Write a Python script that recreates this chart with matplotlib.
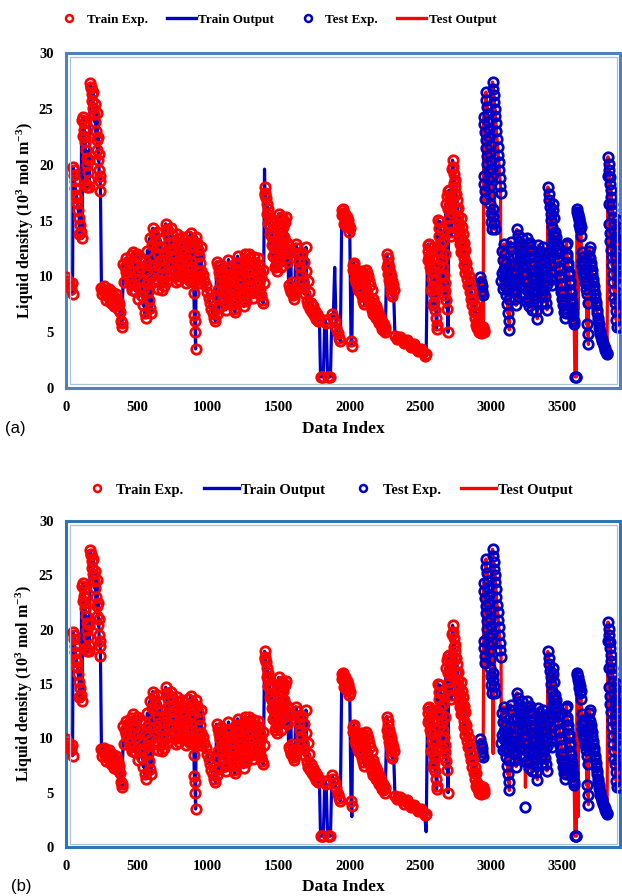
import numpy as np
import matplotlib.pyplot as plt
from matplotlib.lines import Line2D
from matplotlib.patches import Rectangle

plt.rcParams["font.family"] = ["Liberation Serif", "DejaVu Serif"]
plt.rcParams["font.weight"] = "bold"
plt.rcParams["mathtext.fontset"] = "custom"
plt.rcParams["mathtext.rm"] = "Liberation Serif:bold"
plt.rcParams["mathtext.it"] = "Liberation Serif:italic:bold"
plt.rcParams["mathtext.bf"] = "Liberation Serif:bold"

# ---- experimental data, training part (data index, liquid density 10^3 mol/m3) ----
tr_idx_1 = [0, 12, 24, 36, 46, 50, 55, 60, 66, 72, 79, 86, 93, 100, 107, 114,
            120, 124, 128, 132, 136, 141, 146, 151, 156, 161, 165,
            170, 175, 180, 186, 192, 198, 204, 210, 216, 222, 228, 233, 238, 243,
            250, 262, 274, 286, 298, 310, 322, 334, 346, 358, 370, 380, 388, 395]
tr_val_1 = [9.9, 9.6, 9.3, 8.9, 8.4, 19.8, 19.1, 18.5, 17.9, 17.3, 16.6, 15.9, 15.2, 14.6, 14.0, 13.4,
            24.3, 23.7, 23.1, 22.5, 22.0, 21.3, 20.6, 20.0, 19.3, 18.6, 18.0,
            27.3, 26.9, 26.3, 25.7, 25.1, 24.5, 23.8, 23.0, 22.2, 21.3, 20.4, 19.5, 18.5, 17.6,
            9.0, 8.8, 8.5, 8.7, 8.2, 7.9, 8.6, 7.6, 8.1, 7.4, 7.1, 6.8, 6.0, 5.5]

tr_idx_2 = [405, 415, 425, 435, 445, 455, 465,
            475, 485, 495, 505, 515, 525, 535, 545, 555, 562,
            570, 578, 586, 594, 602,
            612, 621, 630, 639, 648, 657, 666, 675, 684, 693,
            703, 711, 719, 727, 735, 743, 751, 759, 767, 775,
            784, 792, 800, 808, 816, 824, 832, 840, 848,
            857, 864, 871, 878, 885, 892, 898, 902, 905, 908, 911, 914,
            920, 927, 934, 941, 948,
            955, 965, 975, 985, 995, 1005, 1015, 1025, 1035, 1045, 1053]
tr_val_2 = [11.1, 10.8, 10.4, 10.0, 9.6, 9.2, 8.8,
            12.2, 11.7, 11.1, 10.5, 9.8, 9.0, 8.2, 7.4, 6.7, 6.3,
            9.3, 8.6, 7.9, 7.2, 6.7,
            14.3, 13.8, 13.2, 12.6, 12.0, 11.4, 10.8, 10.2, 9.6, 9.1,
            14.7, 14.2, 13.6, 13.0, 12.4, 11.8, 11.2, 10.6, 10.0, 9.5,
            13.8, 13.3, 12.8, 12.3, 11.7, 11.1, 10.5, 9.9, 9.4,
            13.6, 13.1, 12.6, 12.0, 11.4, 10.8, 9.5, 8.5, 6.5, 6.0, 5.0, 3.5,
            13.5, 13.0, 12.4, 11.8, 11.2,
            10.5, 10.1, 9.6, 9.1, 8.6, 8.1, 7.6, 7.1, 6.7, 6.3, 6.0]

tr_idx_3 = [1062, 1070, 1078, 1086, 1094, 1102, 1110, 1118, 1126,
            1134, 1142, 1150, 1158, 1166, 1174, 1182, 1190,
            1198, 1206, 1214, 1222, 1230, 1238, 1246, 1254,
            1262, 1270, 1278, 1286, 1294, 1302, 1310, 1318,
            1326, 1334, 1342, 1350, 1358, 1366, 1374, 1382, 1390]
tr_val_3 = [11.3, 10.9, 10.4, 9.9, 9.3, 8.7, 8.1, 7.5, 7.0,
            10.6, 10.1, 9.5, 8.9, 8.3, 7.7, 7.1, 6.8,
            11.2, 10.7, 10.1, 9.5, 8.9, 8.3, 7.8, 7.3,
            12.0, 11.5, 11.0, 10.4, 9.8, 9.2, 8.6, 8.1,
            11.7, 11.2, 10.7, 10.1, 9.5, 8.9, 8.3, 7.9, 7.6]

tr_idx_4 = [1400, 1406, 1412, 1418, 1424, 1430, 1436, 1442, 1448, 1454, 1460, 1466, 1472, 1478, 1484, 1490,
            1500, 1506, 1512, 1518, 1524, 1530, 1536, 1542, 1548, 1556,
            1570, 1580, 1590, 1600, 1610,
            1620, 1628, 1636, 1644, 1652, 1660, 1668, 1676, 1684, 1692, 1700, 1710,
            1720, 1735, 1750, 1765, 1780,
            1795, 1805, 1815, 1825, 1835, 1845, 1855, 1865,
            1875, 1885, 1895, 1905, 1915, 1925, 1935]
tr_val_4 = [18.0, 17.5, 17.0, 16.5, 16.0, 15.5, 15.0, 14.5, 14.0, 13.5, 13.0, 12.5, 12.0, 11.5, 11.0, 10.5,
            15.6, 15.1, 14.6, 14.1, 13.6, 13.1, 12.6, 12.1, 11.6, 11.3,
            9.2, 8.9, 8.6, 8.3, 8.0,
            12.9, 12.5, 12.0, 11.4, 10.8, 10.2, 9.6, 9.0, 8.4, 12.6, 7.8, 7.4,
            7.1, 6.8, 6.5, 6.2, 6.0,
            1.0, 1.0, 1.0, 6.1, 5.8, 1.0, 1.0, 1.0,
            6.6, 6.3, 5.9, 5.4, 4.9, 4.5, 4.2]

tr_idx_5 = [1945, 1952, 1959, 1966, 1973, 1980, 1987, 1994, 2001,
            2010, 2016,
            2025, 2033, 2041, 2049, 2057, 2065,
            2073, 2081, 2089, 2097, 2105,
            2115, 2123, 2131, 2139, 2147, 2155,
            2163, 2173, 2183, 2193, 2203, 2213, 2223, 2233, 2243, 2253,
            2262, 2268, 2274, 2280, 2286, 2292, 2298, 2304, 2310,
            2320, 2345, 2370, 2395, 2420, 2445, 2470, 2495, 2520, 2540]
tr_val_5 = [15.9, 15.7, 15.5, 15.3, 15.1, 14.9, 14.7, 14.5, 14.3,
            4.2, 3.8,
            11.0, 10.7, 10.5, 10.3, 10.1, 9.9,
            9.0, 8.6, 8.2, 7.8, 7.5,
            10.6, 10.3, 10.0, 9.6, 9.2, 8.8,
            8.0, 7.6, 7.3, 7.0, 6.7, 6.4, 6.1, 5.8, 5.6, 5.4,
            12.0, 11.6, 11.2, 10.8, 10.4, 10.0, 9.6, 9.2, 8.8,
            4.7, 4.5, 4.3, 4.2, 4.0, 3.8, 3.6, 3.4, 3.2, 3.0]

tr_idx_6 = [2550, 2556, 2562,
            2568, 2574, 2580, 2586, 2592, 2598, 2604, 2610, 2616,
            2622, 2628, 2634, 2640, 2646, 2652, 2658, 2664, 2670, 2676, 2682, 2688, 2694,
            2700, 2705, 2710, 2715, 2720,
            2726, 2731, 2736, 2741, 2746, 2751, 2756, 2762, 2768, 2774, 2780, 2786, 2792, 2798, 2804, 2810,
            2816, 2826, 2836, 2846, 2856, 2866, 2876, 2886,
            2894, 2902, 2910, 2918, 2926, 2934, 2942, 2950]
tr_val_6 = [12.8, 12.3, 11.8,
            11.2, 10.5, 9.8, 9.1, 8.4, 7.7, 7.0, 6.3, 5.6,
            15.0, 14.3, 13.6, 12.9, 12.2, 11.5, 10.8, 10.1, 9.4, 8.7, 7.9, 7.1, 5.0,
            17.7, 17.2, 16.7, 16.2, 15.7,
            20.4, 19.8, 19.2, 18.6, 18.0, 17.4, 16.8, 16.1, 15.4, 14.7, 14.0, 13.4, 12.8, 12.2, 11.6, 11.0,
            10.3, 9.8, 9.2, 8.6, 8.0, 7.4, 6.8, 6.3,
            5.6, 5.4, 5.3, 5.2, 5.3, 5.2, 5.3, 5.2]

# interleaved training points that thicken the dense bands
tr_fill_idx = [40, 58, 75, 95, 110, 118, 140, 150, 160, 178, 190, 207, 218, 226, 232, 240,
               256, 268, 280, 292, 304, 316, 328, 340, 352, 364, 376, 392,
               410, 420, 440, 450, 460, 470, 480, 490, 500, 510, 520, 530, 540, 550, 558, 566, 574, 582,
               590, 598, 606, 616, 626, 636, 645, 652, 662, 672, 680, 690, 698, 707, 715, 724, 732, 740,
               748, 756, 764, 772, 780, 788, 796, 804, 812, 820, 828, 836, 844, 852, 861, 868, 875, 882,
               889, 895, 917, 924, 931, 938, 945, 952,
               1058, 1066, 1074, 1082, 1090, 1098, 1106, 1114, 1122, 1130, 1138, 1146, 1154, 1162, 1170,
               1178, 1186, 1194, 1202, 1210, 1218, 1226, 1234, 1242, 1250, 1258, 1266, 1274, 1282, 1290,
               1298, 1306, 1314, 1322, 1330, 1338, 1346, 1354, 1362, 1370, 1378, 1386, 1394,
               1403, 1415, 1427, 1439, 1451, 1463, 1475, 1487, 1495, 1503, 1509, 1515, 1521, 1527, 1533,
               1539, 1545, 1551, 1559, 1565, 1575, 1585, 1595, 1605, 1615, 1632, 1648, 1664, 1680, 1696,
               1705, 1715, 1727, 1742, 1757, 1772, 1787,
               1948, 1955, 1962, 1969, 1976, 1983, 1990, 1997,
               2021, 2029, 2037, 2045, 2053, 2061, 2069, 2077, 2085, 2093, 2101, 2109, 2119, 2127, 2135,
               2143, 2151, 2159, 2168, 2178, 2188, 2198, 2208, 2218, 2228, 2238, 2248, 2265, 2271, 2277,
               2283, 2289, 2295, 2301,
               2332, 2357, 2382, 2407, 2432, 2457, 2482, 2507, 2530,
               2553, 2559, 2565, 2571, 2577, 2583, 2589, 2595, 2601, 2607, 2613, 2619, 2625, 2631, 2637,
               2643, 2649, 2655, 2661, 2667, 2673, 2679, 2685, 2691, 2697, 2703, 2708, 2713, 2718,
               2723, 2733, 2743, 2753, 2759, 2765, 2771, 2777, 2783, 2789, 2795, 2801, 2807, 2813, 2821,
               2831, 2841, 2851, 2861, 2871, 2881, 2891, 2898, 2906, 2914, 2922, 2930, 2938, 2946]
tr_fill_val = [9.4, 19.5, 17.0, 13.8, 24.0, 22.6, 18.3, 18.0, 20.4, 27.0, 26.5, 25.4, 24.6, 22.5, 21.0, 19.0,
               8.4, 9.1, 7.9, 8.3, 8.9, 7.6, 8.2, 7.3, 8.4, 7.8, 7.5, 5.8,
               9.5, 11.6, 11.3, 10.6, 11.9, 10.4, 9.3, 8.7, 12.0, 8.0, 11.6, 10.8, 9.6, 9.0, 11.4, 10.5, 12.3, 11.0,
               13.4, 9.9, 12.8, 9.5, 11.0, 9.8, 14.0, 8.9, 13.3, 12.6, 8.8, 12.1, 11.5, 10.0, 9.6, 11.0, 10.4, 14.3,
               13.8, 13.0, 12.5, 11.9, 11.3, 10.0, 9.7, 11.0, 10.2, 13.5, 12.9, 12.2, 11.5, 10.8, 10.2, 9.8, 9.6, 13.9,
               13.2, 12.7, 9.6, 9.9, 10.5, 9.4, 10.0, 12.6,
               8.2, 6.6, 8.8, 7.2, 11.0, 10.5, 10.2, 9.6, 9.0, 8.5, 7.6, 11.5, 10.9, 10.2, 9.8,
               9.2, 8.8, 8.0, 7.5, 11.8, 11.2, 10.6, 10.1, 9.4, 9.0, 8.5, 7.8, 9.2, 8.4, 12.0,
               11.6, 11.1, 10.6, 9.9, 8.8, 9.3, 8.5, 11.6, 11.0, 10.4, 9.9, 10.6, 9.4,
               17.3, 15.6, 14.8, 13.8, 12.8, 11.8, 10.8, 12.8, 13.5, 12.4, 11.6, 10.8, 15.3, 14.9, 14.4,
               13.5, 14.9, 15.3, 13.0, 12.4, 12.7, 12.2, 9.5, 8.8, 8.5, 8.8, 9.4, 12.1, 11.3, 10.5,
               9.6, 8.6, 7.6, 7.3, 6.9, 6.6, 6.3,
               15.5, 16.0, 14.7, 15.6, 14.5, 15.3, 15.0, 14.0,
               10.6, 11.2, 9.8, 9.5, 9.3, 8.9, 8.7, 10.5, 10.2, 9.9, 9.5, 9.2, 8.5, 8.2, 7.9,
               7.6, 7.3, 7.0, 6.6, 6.9, 6.3, 6.1, 5.8, 5.6, 5.3, 5.2, 5.0, 10.8, 10.2, 9.7,
               9.3, 8.9, 8.5, 8.2,
               4.4, 4.6, 4.0, 4.3, 3.7, 3.9, 3.3, 3.5, 2.9,
               11.5, 12.9, 10.8, 12.5, 8.8, 11.6, 7.4, 10.9, 9.6, 8.9, 5.3, 9.0, 12.4, 11.0, 14.9,
               10.0, 14.1, 9.1, 13.2, 8.3, 12.0, 16.5, 17.2, 17.6, 16.0, 15.2, 14.6, 14.0, 13.6,
               19.6, 18.4, 17.3, 16.0, 15.0, 14.2, 13.5, 12.9, 12.2, 15.2, 14.4, 13.8, 13.0, 12.4, 11.2,
               10.6, 10.0, 9.3, 8.6, 8.0, 7.4, 6.8, 5.9, 5.7, 5.0, 5.6, 4.9, 5.5, 5.0]

# ---- experimental data, test part ----
te_idx_1 = [2922, 2927, 2932, 2937, 2942,
            2947, 2951, 2955, 2959, 2963, 2967, 2971, 2975, 2979, 2983, 2987, 2991, 2995, 2999, 3003,
            3008, 3012, 3016, 3020, 3024, 3028, 3032, 3036, 3040, 3044, 3048, 3052, 3056, 3060, 3064, 3068,
            3074, 3080, 3086, 3092, 3098, 3104, 3110, 3116, 3121, 3126,
            3132, 3139, 3146, 3153, 3160, 3167, 3174,
            3180, 3186, 3192, 3198, 3204, 3210, 3216, 3222, 3228, 3234, 3240, 3246,
            3252, 3258, 3264, 3270, 3276, 3282, 3288, 3294, 3300, 3306, 3312, 3318, 3324,
            3332, 3338, 3344, 3350, 3356, 3362, 3368, 3374, 3380, 3386, 3392]
te_val_1 = [9.9, 9.5, 9.1, 8.7, 8.3,
            24.3, 23.6, 22.9, 22.2, 21.5, 20.8, 20.1, 19.4, 18.7, 18.0, 17.3, 16.5, 15.7, 14.9, 14.2,
            27.4, 26.8, 26.2, 25.6, 25.0, 24.4, 23.7, 23.0, 22.3, 21.6, 20.9, 20.2, 19.5, 18.8, 18.1, 17.5,
            12.3, 11.5, 10.7, 9.9, 9.1, 8.3, 7.5, 6.7, 6.0, 5.2,
            11.0, 10.4, 9.8, 9.2, 8.6, 8.0, 7.4,
            14.2, 13.7, 13.2, 12.6, 12.0, 11.4, 10.8, 10.2, 9.6, 9.0, 8.4, 7.8,
            13.4, 12.9, 12.3, 11.7, 11.1, 10.5, 9.9, 9.3, 8.7, 8.1, 7.5, 6.9, 6.2,
            12.8, 12.3, 11.8, 11.2, 10.6, 10.0, 9.4, 8.8, 8.2, 7.6, 7.0]

te_idx_2 = [3398, 3403, 3408, 3413, 3418, 3423, 3428, 3433, 3438, 3443,
            3450, 3457, 3464, 3471, 3478, 3485, 3492, 3499, 3506, 3513, 3520,
            3527, 3533, 3539, 3545, 3551, 3557, 3563,
            3569, 3574, 3579, 3584, 3589, 3594, 3599,
            3606, 3612, 3618, 3624, 3630,
            3636, 3642, 3648, 3654, 3660, 3666, 3672, 3678, 3684,
            3690, 3697, 3704, 3711, 3718, 3725, 3732, 3739, 3746, 3753, 3760,
            3768, 3778, 3788, 3798, 3808, 3816,
            3822, 3826, 3830, 3834, 3838, 3842, 3846, 3850, 3854, 3858, 3862, 3866, 3870, 3874,
            3878, 3882, 3886, 3890, 3894, 3898, 3902, 3906, 3910]
te_val_2 = [18.0, 17.4, 16.8, 16.2, 15.6, 15.0, 14.4, 13.8, 13.2, 12.6,
            13.2, 12.4, 11.6, 10.8, 10.0, 9.3, 8.6, 8.0, 7.4, 6.8, 6.3,
            12.8, 12.0, 11.2, 10.4, 9.6, 8.8, 8.0,
            7.5, 6.8, 6.2, 5.7, 1.0, 1.0, 1.0,
            16.0, 15.6, 15.2, 14.8, 14.4,
            11.4, 10.9, 10.4, 9.9, 9.4, 8.9, 5.7, 4.8, 3.9,
            12.3, 11.6, 10.9, 10.2, 9.5, 8.8, 8.1, 7.4, 6.7, 6.0, 5.4,
            4.8, 4.4, 4.0, 3.6, 3.2, 3.0,
            20.7, 20.1, 19.5, 18.9, 18.3, 17.7, 17.1, 16.5, 15.9, 15.3, 14.7, 14.1, 13.5, 12.9,
            12.3, 11.7, 11.1, 10.5, 9.9, 9.3, 8.0, 6.8, 5.5]

# interleaved test points that thicken the dense bands
te_fill_idx = [2924, 2930, 2945, 2949, 2953, 2957, 2961, 2965, 2969, 2973, 2977, 2981, 2985, 2989,
               2993, 2997, 3001, 3005, 3010, 3014, 3018, 3022,
               3071, 3077, 3083, 3089, 3095, 3101, 3107, 3113, 3119, 3124, 3129, 3136, 3143, 3150,
               3157, 3164, 3171, 3177, 3183, 3189, 3195, 3201, 3207, 3213, 3219, 3225, 3231, 3237,
               3243, 3249, 3255, 3261, 3267, 3273, 3279, 3285, 3291, 3297, 3303, 3309, 3315, 3321,
               3327, 3335, 3341, 3347, 3353, 3359, 3365, 3371, 3377, 3383, 3389, 3395,
               3401, 3406, 3411, 3416, 3421, 3426, 3431, 3436, 3441, 3447, 3454, 3461, 3468, 3475,
               3482, 3489, 3496, 3503, 3510, 3517, 3524, 3530, 3536, 3542, 3548, 3554, 3560, 3566,
               3572, 3577, 3582,
               3603, 3609, 3615, 3621, 3627, 3633, 3639, 3645, 3651, 3657, 3663, 3669, 3675, 3681,
               3687, 3694, 3701, 3708, 3715, 3722, 3729, 3736, 3743, 3750, 3757, 3764, 3773, 3783,
               3793, 3803, 3812,
               3824, 3828, 3832, 3836, 3840, 3844, 3848, 3852, 3856, 3860, 3864, 3868, 3872, 3876,
               3880, 3884, 3888, 3892, 3896, 3900, 3904, 3908]
te_fill_val = [9.4, 8.5, 19.0, 18.3, 17.6, 16.9, 26.5, 25.8, 25.2, 24.5, 23.8, 23.2, 22.5, 21.8,
               21.0, 20.3, 19.6, 18.9, 16.0, 15.4, 14.8, 14.2,
               9.6, 10.3, 8.9, 12.9, 12.0, 11.2, 10.4, 9.5, 8.8, 8.0, 12.6, 13.1, 12.5, 11.8,
               11.0, 10.2, 9.5, 8.8, 11.9, 10.9, 9.8, 9.1, 8.4, 13.4, 12.8, 12.2, 11.6, 11.0,
               10.3, 9.5, 8.7, 8.0, 7.3, 13.0, 12.4, 7.0, 11.8, 11.2, 10.5, 9.8, 9.2, 8.6,
               10.8, 10.2, 9.6, 8.9, 8.3, 7.6, 12.6, 12.0, 11.4, 10.8, 10.0, 9.3,
               12.2, 11.6, 11.0, 10.4, 9.8, 9.2, 16.5, 15.9, 15.2, 14.0, 13.5, 12.8, 12.1, 11.4,
               10.6, 9.9, 9.2, 8.5, 7.8, 7.2, 6.7, 13.0, 11.7, 10.9, 10.1, 9.3, 8.5, 7.8,
               7.2, 6.5, 6.0,
               15.8, 15.4, 15.0, 14.6, 14.2, 13.6, 12.2, 11.7, 11.2, 10.7, 10.2, 9.6, 8.4, 7.6,
               11.8, 12.6, 11.2, 10.6, 9.8, 9.1, 8.4, 7.7, 7.0, 6.3, 5.7, 5.1, 4.6, 4.2,
               3.8, 3.4, 3.1,
               19.0, 16.5, 14.7, 13.9, 13.2, 12.4, 11.7, 11.0, 10.2, 9.5, 8.8, 8.1, 7.6, 6.9,
               6.1, 5.5, 15.0, 14.0, 13.0, 12.1, 10.8, 9.9]

# extra test point only seen in panel (b)
te_extra_b_idx = [3239]
te_extra_b_val = [3.7]

# model outputs: equal to the experimental points except where they deviate
tr_dev_a_idx = [1400, 1895]
tr_dev_a_val = [19.6, 10.8]
te_dev_a_idx = [2942, 3068, 3612]
te_dev_a_val = [5.6, 9.0, 7.0]
tr_dev_b_idx = [2016, 2540]
tr_dev_b_val = [2.8, 1.4]
te_dev_b_idx = [3012, 3240, 3612]
te_dev_b_val = [8.6, 5.5, 2.8]

x_ticks = [0, 500, 1000, 1500, 2000, 2500, 3000, 3500]
y_ticks = [0, 5, 10, 15, 20, 25, 30]
legend_labels = ["Train Exp.", "Train Output", "Test Exp.", "Test Output"]


def merge(idx_parts, val_parts):
    idx = np.concatenate([np.asarray(p, dtype=float) for p in idx_parts])
    val = np.concatenate([np.asarray(p, dtype=float) for p in val_parts])
    assert len(idx) == len(val)
    order = np.argsort(idx, kind="stable")
    return idx[order], val[order]


train_idx, train_exp = merge([tr_idx_1, tr_idx_2, tr_idx_3, tr_idx_4, tr_idx_5, tr_idx_6, tr_fill_idx],
                             [tr_val_1, tr_val_2, tr_val_3, tr_val_4, tr_val_5, tr_val_6, tr_fill_val])
test_idx, test_exp = merge([te_idx_1, te_idx_2, te_fill_idx], [te_val_1, te_val_2, te_fill_val])

RED = "#FF0000"
BLUE = "#0000C8"
MS, MEW = 6.8, 2.0


def output(idx, exp, dev_idx, dev_val):
    out = exp.copy()
    for i, v in zip(dev_idx, dev_val):
        out[idx == i] = v
    return out


fig = plt.figure(figsize=(6.22, 8.96), dpi=100)


def panel(rect, frame_col, tr_dev, te_dev, extra=None):
    ax = fig.add_axes(rect)
    ax.plot(train_idx, output(train_idx, train_exp, *tr_dev), color=BLUE, lw=2.3, zorder=2)
    ax.plot(test_idx, output(test_idx, test_exp, *te_dev), color=RED, lw=2.3, zorder=2)
    ax.plot(test_idx, test_exp, ls="none", marker="o", mfc="none", mec=BLUE, ms=MS, mew=MEW, zorder=3)
    ax.plot(train_idx, train_exp, ls="none", marker="o", mfc="none", mec=RED, ms=MS, mew=MEW, zorder=3)
    if extra is not None:
        ax.plot(extra[0], extra[1], ls="none", marker="o", mfc="none", mec=BLUE, ms=MS, mew=MEW, zorder=3)
    ax.set_xlim(0, 3907)
    ax.set_ylim(0, 30)
    ax.set_xticks(x_ticks)
    ax.set_yticks(y_ticks)
    ax.tick_params(length=0, labelsize=10.5)
    ax.tick_params(axis="x", pad=9)
    ax.tick_params(axis="y", pad=9)
    for s in ax.spines.values():
        s.set_color(frame_col)
        s.set_linewidth(2.2)
    # inner thin line of the double frame
    w = rect[2] * 622
    h = rect[3] * 896
    dx, dy = 3.5 / w, 3.5 / h
    ax.add_patch(Rectangle((dx, dy), 1 - 2 * dx, 1 - 2 * dy, transform=ax.transAxes,
                           fill=False, lw=0.9, ec="#A9C1DE", clip_on=False, zorder=5))
    return ax


ax_a = panel([66 / 622, 1 - 388 / 896, 554 / 622, 335 / 896], "#4F81BD",
             (tr_dev_a_idx, tr_dev_a_val), (te_dev_a_idx, te_dev_a_val))
ax_b = panel([66 / 622, 1 - 847 / 896, 554 / 622, 326 / 896], "#2E75B6",
             (tr_dev_b_idx, tr_dev_b_val), (te_dev_b_idx, te_dev_b_val),
             extra=(te_extra_b_idx, te_extra_b_val))

handles = [Line2D([], [], ls="none", marker="o", mfc="none", mec=RED, ms=5, mew=1.8),
           Line2D([], [], color=BLUE, lw=2.4),
           Line2D([], [], ls="none", marker="o", mfc="none", mec=BLUE, ms=5, mew=1.8),
           Line2D([], [], color=RED, lw=2.4)]

fig.legend(handles, legend_labels, loc="center", bbox_to_anchor=(275.5 / 622, 1 - 20 / 896),
           ncol=4, frameon=False, handlelength=2.2, handletextpad=0.2, columnspacing=1.45,
           prop={"family": "Liberation Serif", "weight": "bold", "size": 9.5})
fig.legend(handles, legend_labels, loc="center", bbox_to_anchor=(326 / 622, 1 - 490 / 896),
           ncol=4, frameon=False, handlelength=2.4, handletextpad=0.15, columnspacing=1.4,
           prop={"family": "Liberation Serif", "weight": "bold", "size": 10.5})

ylab = "Liquid density (10$^{3}$ mol m$^{-3}$)"
fig.text(25 / 622, 1 - 221 / 896, ylab, rotation=90, ha="center", va="center", fontsize=11.5, fontweight="bold")
fig.text(24 / 622, 1 - 684 / 896, ylab, rotation=90, ha="center", va="center", fontsize=11.5, fontweight="bold")
fig.text(343 / 622, 1 - 429 / 896, "Data Index", ha="center", va="center", fontsize=12.5, fontweight="bold")
fig.text(343 / 622, 1 - 887 / 896, "Data Index", ha="center", va="center", fontsize=12.5, fontweight="bold")
fig.text(15 / 622, 1 - 428 / 896, "(a)", ha="center", va="center", fontsize=12,
         family="Liberation Sans", fontweight="normal")
fig.text(21 / 622, 1 - 886 / 896, "(b)", ha="center", va="center", fontsize=12,
         family="Liberation Sans", fontweight="normal")

fig.savefig("out.png", dpi=100)
